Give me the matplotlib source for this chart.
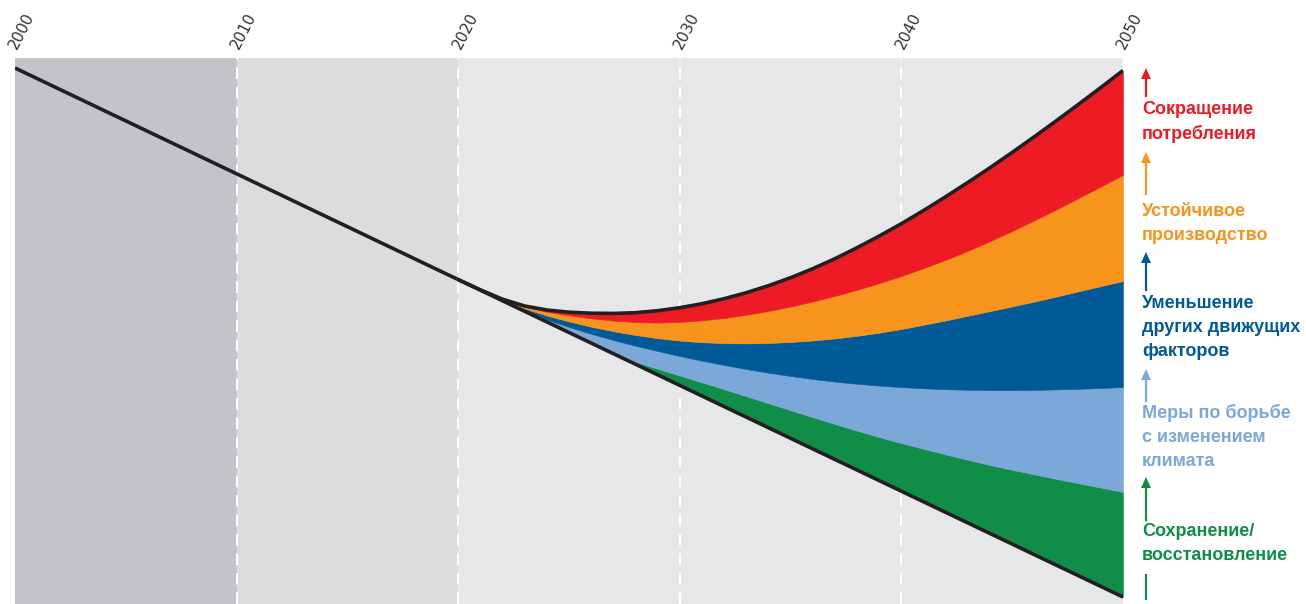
import matplotlib.pyplot as plt
from matplotlib.transforms import ScaledTranslation

# годы, для которых считаны границы "веера"
years = list(range(2022, 2051))

# прямой тренд (условный индекс)
trend_years = [2000, 2050]
trend_vals = [536, 7]

# границы полос снизу вверх, по годам 2022..2050
green_low = [303.2, 292.7, 282.1, 271.5, 260.9, 250.3, 239.8, 229.2, 218.6, 208.0,
             197.4, 186.9, 176.3, 165.7, 155.1, 144.5, 133.9, 123.4, 112.8, 102.2,
             91.6, 81.0, 70.5, 59.9, 49.3, 38.7, 28.1, 17.6, 7.0]
green_high = [303.2, 292.7, 282.1, 271.5, 260.9, 250.8, 242.0, 235.3, 228.5, 221.6,
              214.8, 207.8, 200.8, 193.8, 186.8, 180.0, 173.3, 167.0, 160.9, 155.2,
              149.6, 144.2, 139.0, 134.2, 129.6, 125.1, 120.7, 116.4, 112.0]
lblue_high = [303.4, 293.0, 284.5, 277.0, 270.2, 264.0, 258.3, 253.0, 248.0, 243.3,
              239.0, 235.0, 231.3, 228.0, 225.0, 222.4, 220.2, 218.4, 216.9, 215.7,
              214.8, 214.2, 213.9, 213.9, 214.1, 214.6, 215.2, 216.0, 217.0]
blue_high = [303.8, 295.5, 288.5, 282.5, 277.3, 272.8, 269.0, 265.8, 263.4, 261.8,
             260.9, 260.6, 261.0, 262.0, 263.5, 265.6, 268.2, 271.3, 275.0, 279.2,
             283.6, 288.2, 292.9, 297.6, 302.4, 307.5, 312.7, 317.9, 323.0]
orange_high = [304.2, 297.2, 292.2, 288.7, 285.7, 283.4, 281.9, 281.4, 282.0, 283.6,
               286.0, 289.2, 293.0, 297.5, 302.5, 308.1, 314.2, 320.8, 328.0, 335.8,
               344.2, 353.2, 362.8, 373.0, 383.7, 394.7, 406.0, 417.5, 429.1]
red_high = [304.8, 298.0, 294.0, 291.8, 290.8, 290.6, 291.3, 293.3, 296.3, 300.3,
            305.3, 311.3, 318.3, 326.3, 335.3, 345.3, 356.3, 368.0, 380.3, 393.5,
            407.3, 421.6, 436.3, 451.6, 467.3, 483.4, 499.8, 516.5, 533.5]

# начало верхней кривой (касание тренда)
curve_start_years = [2020, 2021]
curve_start_vals = [324.4, 314.2]

tick_years = [2000, 2010, 2020, 2030, 2040, 2050]

labels = [
    "Сокращение\nпотребления",
    "Устойчивое\nпроизводство",
    "Уменьшение\nдругих движущих\nфакторов",
    "Меры по борьбе\nс изменением\nклимата",
    "Сохранение/\nвосстановление",
]
colors = ["#ed1c24", "#f7941d", "#005a98", "#7ba7d9", "#108e47"]

W, H = 1306, 604
fig = plt.figure(figsize=(W / 100, H / 100), dpi=100)
ax = fig.add_axes([15 / W, 0, 1108 / W, 546 / H])

ax.axvspan(2000, 2010, color="#c3c4c7", lw=0)
ax.axvspan(2010, 2020, color="#dbdcde", lw=0)
ax.axvspan(2020, 2050, color="#e6e7e9", lw=0)
for x in [2010, 2020, 2030, 2040]:
    ax.axvline(x, color="white", lw=1.4, ls=(0, (6, 4)), zorder=1)

bounds = [green_low, green_high, lblue_high, blue_high, orange_high, red_high]
fill_colors = colors[::-1]
for i in range(5):
    ax.fill_between(years, bounds[i], bounds[i + 1], color=fill_colors[i],
                    lw=0.4, edgecolor=fill_colors[i], zorder=2)

ax.plot(trend_years, trend_vals, color="#231f20", lw=2.6, solid_capstyle="butt", zorder=3)
ax.plot(curve_start_years + years, curve_start_vals + red_high, color="#231f20", lw=2.6,
        solid_capstyle="butt", zorder=3)

ax.set_xlim(2000, 2050)
ax.set_ylim(0, 546)
ax.set_yticks([])
ax.xaxis.tick_top()
ax.set_xticks(tick_years)
ax.set_xticklabels([str(y) for y in tick_years], rotation=63, ha="left", va="bottom",
                   rotation_mode="anchor", fontsize=11, color="#333333",
                   family="Liberation Sans Narrow")
ax.tick_params(axis="x", length=0, pad=5)
shift = ScaledTranslation(5 / 100, 0, fig.dpi_scale_trans)
for t in ax.get_xticklabels():
    t.set_transform(t.get_transform() + shift)
for s in ax.spines.values():
    s.set_visible(False)

# подписи справа со стрелками
text_x = 1142
text_tops = [110, 212, 304, 413, 532]
arrows = [(96, 68), (194, 152), (290, 252), (401, 369), (520, 477)]
for lab, col, ty, (a0, a1) in zip(labels, colors, text_tops, arrows):
    for k, line in enumerate(lab.split("\n")):
        fig.text(text_x / W, 1 - (ty + 24 * k) / H, line, color=col, fontsize=13,
                 fontweight="bold", family="Liberation Sans", va="center", ha="left")
    fig.add_artist(plt.Line2D([1146 / W] * 2, [1 - a0 / H, 1 - (a1 + 9) / H],
                              color=col, lw=1.6))
    fig.add_artist(plt.Polygon([[1141 / W, 1 - (a1 + 11) / H], [1151 / W, 1 - (a1 + 11) / H],
                                [1146 / W, 1 - a1 / H]], closed=True, color=col, lw=0))
fig.add_artist(plt.Line2D([1146 / W] * 2, [1 - 575 / H, 1 - 599 / H], color=colors[4], lw=1.6))

fig.savefig("out.png", dpi=100)
